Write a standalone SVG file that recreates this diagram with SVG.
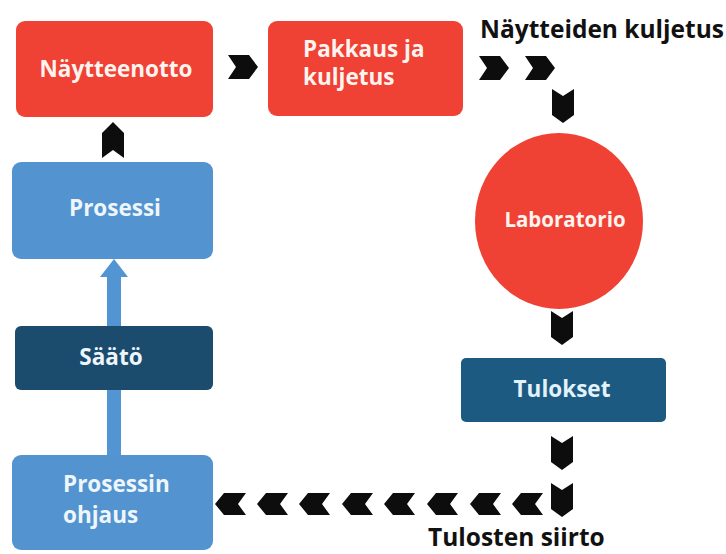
<svg xmlns="http://www.w3.org/2000/svg" xmlns:xlink="http://www.w3.org/1999/xlink" width="726" height="554" viewBox="0 0 726 554">
  <style>
    .lbl { font-family: "Open Sans", "Liberation Sans", sans-serif; font-weight: 700; font-size: 22.5px; }
    .on-red { fill: #fff4ef; }
    .on-blue { fill: #eef6fc; }
    .caption { font-family: "Open Sans", "Liberation Sans", sans-serif; font-weight: 700; font-size: 24.5px; fill: #111; }
    .red { fill: #ef4134; }
    .lightblue { fill: #5393cf; }
    .navy { fill: #1b4b6d; }
    .teal { fill: #1d5a82; }
    .chev { fill: #0d0d0d; }
  </style>
  <defs>
    <!-- chevron heads used along the flow path -->
    <path id="chev-right" d="M0,0 H21 L30,12 L21,24 H0 L8,12 Z"/>
    <path id="chev-left" d="M0,11 L9,0 H31 L23,11 L31,22 H9 Z"/>
    <path id="chev-down" d="M0,0 L11,7 L22,0 V26 L11,34 L0,26 Z"/>
    <path id="chev-up" d="M11,0 L22,11 V36 L11,28 L0,36 V11 Z"/>
  </defs>

  <rect width="726" height="554" fill="#ffffff"/>

  <g id="connectors">
    <!-- feedback arrow: Prosessin ohjaus -> Prosessi (runs behind Säätö) -->
    <path d="M114,259 L128,277 L121,277 L121,456 L107,456 L107,277 L100,277 Z" fill="#5394d2"/>
    <!-- Prosessi -> Näytteenotto -->
    <use xlink:href="#chev-up" class="chev" x="102" y="122"/>
    <!-- Näytteenotto -> Pakkaus ja kuljetus -->
    <use xlink:href="#chev-right" class="chev" x="228" y="55"/>
    <!-- sample transport -->
    <use xlink:href="#chev-right" class="chev" x="479" y="56"/>
    <use xlink:href="#chev-right" class="chev" x="525" y="56"/>
    <use xlink:href="#chev-down" class="chev" x="552" y="89"/>
    <!-- Laboratorio -> Tulokset -->
    <use xlink:href="#chev-down" class="chev" x="551" y="311"/>
    <!-- Tulokset -> result transfer -->
    <use xlink:href="#chev-down" class="chev" x="551" y="436"/>
    <use xlink:href="#chev-down" class="chev" x="551" y="483"/>
    <use xlink:href="#chev-left" class="chev" x="512" y="493"/>
    <use xlink:href="#chev-left" class="chev" x="470" y="493"/>
    <use xlink:href="#chev-left" class="chev" x="427" y="493"/>
    <use xlink:href="#chev-left" class="chev" x="384" y="493"/>
    <use xlink:href="#chev-left" class="chev" x="342" y="493"/>
    <use xlink:href="#chev-left" class="chev" x="299" y="493"/>
    <use xlink:href="#chev-left" class="chev" x="257" y="493"/>
    <use xlink:href="#chev-left" class="chev" x="215" y="493"/>
  </g>

  <g id="naytteenotto">
    <rect class="red" x="16" y="21" width="197" height="96" rx="9"/>
    <text class="lbl on-red" x="116" y="77" text-anchor="middle">Näytteenotto</text>
  </g>

  <g id="pakkaus">
    <rect class="red" x="268" y="21" width="195" height="95" rx="9"/>
    <text class="lbl on-red" x="303" y="57">Pakkaus ja</text>
    <text class="lbl on-red" x="303" y="85">kuljetus</text>
  </g>

  <g id="prosessi">
    <rect class="lightblue" x="12" y="162" width="201" height="97" rx="9"/>
    <text class="lbl on-blue" x="115" y="216" text-anchor="middle">Prosessi</text>
  </g>

  <g id="saato">
    <rect class="navy" x="15" y="326" width="198" height="64" rx="6"/>
    <text class="lbl on-blue" x="111" y="365" text-anchor="middle">Säätö</text>
  </g>

  <g id="prosessin-ohjaus">
    <rect class="lightblue" x="12" y="455" width="201" height="95" rx="9"/>
    <text class="lbl on-blue" x="63" y="492">Prosessin</text>
    <text class="lbl on-blue" x="63" y="523">ohjaus</text>
  </g>

  <g id="laboratorio">
    <ellipse class="red" cx="559" cy="221" rx="84" ry="88"/>
    <text class="lbl on-red" x="565" y="227" text-anchor="middle" style="font-size:20.5px">Laboratorio</text>
  </g>

  <g id="tulokset">
    <rect class="teal" x="461" y="358" width="205" height="64" rx="5"/>
    <text class="lbl" x="562" y="397" text-anchor="middle" fill="#e2f2fb">Tulokset</text>
  </g>

  <g id="captions">
    <text class="caption" x="480" y="38">Näytteiden kuljetus</text>
    <text class="caption" x="428" y="546">Tulosten siirto</text>
  </g>
</svg>
